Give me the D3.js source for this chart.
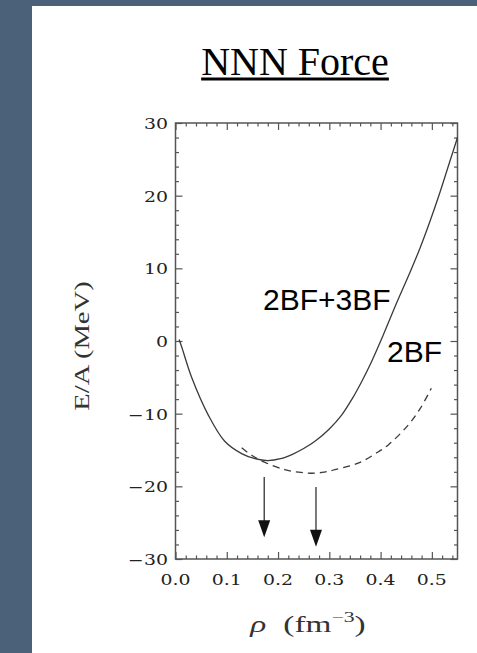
<!DOCTYPE html>
<html>
<head>
<meta charset="utf-8">
<script src="https://cdn.jsdelivr.net/npm/d3@7"></script>
<style>
body { margin: 0; background: #fff; }
svg { display: block; }
</style>
</head>
<body>
<div class="graph"></div>
<script>
// Data
var rho3BF = [0.007, 0.012, 0.032, 0.064, 0.096, 0.129, 0.155, 0.18, 0.205, 0.228, 0.25, 0.272, 0.3, 0.324, 0.345, 0.363, 0.38, 0.405, 0.431, 0.457, 0.477, 0.496, 0.516, 0.535, 0.55];
var e3BF   = [0.2, -0.8, -5.1, -10.2, -13.8, -15.5, -16.2, -16.45, -16.2, -15.6, -14.8, -13.8, -12.1, -10.2, -7.9, -5.6, -3.2, 0.8, 5.2, 9.4, 12.8, 16.4, 20.5, 24.7, 28.0];

var rho2BF = [0.129, 0.15, 0.171, 0.213, 0.24, 0.265, 0.29, 0.311, 0.34, 0.363, 0.39, 0.415, 0.454, 0.478, 0.499];
var e2BF   = [-14.7, -15.8, -16.6, -17.7, -18.05, -18.2, -18.05, -17.7, -17.2, -16.6, -15.5, -14.3, -11.55, -9.2, -6.5];

// saturation points marked with arrows
var arrowRho  = [0.173, 0.274];
var arrowFrom = [-18.7, -20.1];
var arrowTo   = [-27.0, -28.3];

var xTicks = [0.0, 0.1, 0.2, 0.3, 0.4, 0.5];
var xTickLabels = ["0.0", "0.1", "0.2", "0.3", "0.4", "0.5"];
var yTicks = [-30, -20, -10, 0, 10, 20, 30];
var yTickLabels = ["\u221230", "\u221220", "\u221210", "0", "10", "20", "30"];

// Configuration
var width = 477, height = 653;
var plotL = 175.5, plotR = 457.5, plotT = 123, plotB = 559;
var axisColour = "#555";
var curveColour = "#3a3a3a";
var slateColour = "#4b6079";

var x = d3.scaleLinear().domain([0, 0.55]).range([plotL, plotR]);
var y = d3.scaleLinear().domain([-30, 30]).range([plotB, plotT]);

var svg = d3.select(".graph").append("svg")
    .attr("width", width)
    .attr("height", height);

// slide background
svg.append("rect").attr("width", width).attr("height", height).attr("fill", slateColour);
svg.append("rect").attr("x", 32).attr("y", 6).attr("width", width - 32).attr("height", height - 6).attr("fill", "#fff");

// title
var title = svg.append("text")
    .attr("x", 295).attr("y", 75)
    .attr("text-anchor", "middle")
    .attr("font-family", "Liberation Serif, Times New Roman, serif")
    .attr("font-size", 40)
    .attr("fill", "#000")
    .text("NNN Force");
var tw = title.node().getComputedTextLength();
svg.append("rect")
    .attr("x", 295 - tw / 2).attr("y", 77.5)
    .attr("width", tw).attr("height", 3)
    .attr("fill", "#000");

// frame
svg.append("rect")
    .attr("x", plotL).attr("y", plotT)
    .attr("width", plotR - plotL).attr("height", plotB - plotT)
    .attr("fill", "none")
    .attr("stroke", axisColour)
    .attr("stroke-width", 1.5);

var xMinor = d3.range(0, 0.551, 0.02).filter(function(v) { return Math.abs(v * 10 - Math.round(v * 10)) > 1e-6; });
var yMinor = d3.range(-30, 30.1, 2).filter(function(v) { return v % 10 !== 0; });

function ticks(axis, scale, values, size, tr) {
    svg.append("g")
        .attr("transform", tr)
        .call(axis(scale).tickValues(values).tickSize(size).tickSizeOuter(0).tickFormat(""))
        .call(function(g) { g.select(".domain").remove(); })
        .selectAll("line")
        .attr("stroke", axisColour)
        .attr("stroke-width", 1.2);
}

ticks(d3.axisBottom, x, xTicks, -7, "translate(0," + plotB + ")");
ticks(d3.axisBottom, x, xMinor, -3.5, "translate(0," + plotB + ")");
ticks(d3.axisTop, x, xTicks, -7, "translate(0," + plotT + ")");
ticks(d3.axisTop, x, xMinor, -3.5, "translate(0," + plotT + ")");
ticks(d3.axisLeft, y, yTicks, -7, "translate(" + plotL + ",0)");
ticks(d3.axisLeft, y, yMinor, -3.5, "translate(" + plotL + ",0)");
ticks(d3.axisRight, y, yTicks, -7, "translate(" + plotR + ",0)");
ticks(d3.axisRight, y, yMinor, -3.5, "translate(" + plotR + ",0)");

// tick labels (the original figure is stretched sideways)
var tickFont = "DejaVu Serif, serif";
svg.selectAll(".xlab").data(xTicks).enter().append("text")
    .attr("transform", function(d) { return "translate(" + x(d) + ",585) scale(1.35,1)"; })
    .attr("text-anchor", "middle")
    .attr("font-family", tickFont)
    .attr("font-size", 14)
    .attr("fill", "#222")
    .text(function(d, i) { return xTickLabels[i]; });

svg.selectAll(".ylab").data(yTicks).enter().append("text")
    .attr("transform", function(d) { return "translate(168," + (y(d) + 6) + ") scale(1.35,1)"; })
    .attr("text-anchor", "end")
    .attr("font-family", tickFont)
    .attr("font-size", 14)
    .attr("fill", "#222")
    .text(function(d, i) { return yTickLabels[i]; });

// axis titles
svg.append("text")
    .attr("transform", "translate(89,346) rotate(-90) scale(1.3,1)")
    .attr("text-anchor", "middle")
    .attr("font-family", "Liberation Serif, serif")
    .attr("font-size", 22)
    .attr("fill", "#333")
    .text("E/A (MeV)");

var xt = svg.append("text")
    .attr("transform", "translate(308,632) scale(1.45,1)")
    .attr("text-anchor", "middle")
    .attr("font-family", "Liberation Serif, serif")
    .attr("font-size", 23)
    .attr("fill", "#333");
xt.append("tspan").attr("font-style", "italic").text("\u03C1");
xt.append("tspan").attr("dx", 6).text(" (fm");
xt.append("tspan").attr("dy", -10).attr("font-size", 15).text("\u22123");
xt.append("tspan").attr("dy", 10).text(")");

// curves
var line = d3.line()
    .x(function(d) { return x(d[0]); })
    .y(function(d) { return y(d[1]); })
    .curve(d3.curveCatmullRom.alpha(0.5));

svg.append("path")
    .attr("d", line(d3.zip(rho3BF, e3BF)))
    .attr("fill", "none")
    .attr("stroke", curveColour)
    .attr("stroke-width", 1.3);

svg.append("path")
    .attr("d", line(d3.zip(rho2BF, e2BF)))
    .attr("fill", "none")
    .attr("stroke", curveColour)
    .attr("stroke-width", 1.3)
    .style("stroke-dasharray", "7,5");

// arrows
var headLen = 17, headHalf = 6;
arrowRho.forEach(function(r, i) {
    var ax = x(r), y0 = y(arrowFrom[i]), y1 = y(arrowTo[i]);
    svg.append("line")
        .attr("x1", ax).attr("x2", ax)
        .attr("y1", y0).attr("y2", y1 - headLen + 2)
        .attr("stroke", "#222")
        .attr("stroke-width", 1.2);
    svg.append("path")
        .attr("d", "M" + (ax - headHalf) + "," + (y1 - headLen) + "L" + (ax + headHalf) + "," + (y1 - headLen) + "L" + ax + "," + y1 + "Z")
        .attr("fill", "#111");
});

// curve labels
svg.append("text")
    .attr("x", 263).attr("y", 310)
    .attr("font-family", "Liberation Sans, Arial, sans-serif")
    .attr("font-size", 30)
    .attr("fill", "#000")
    .text("2BF+3BF");

svg.append("text")
    .attr("x", 387).attr("y", 362)
    .attr("font-family", "Liberation Sans, Arial, sans-serif")
    .attr("font-size", 30)
    .attr("fill", "#000")
    .text("2BF");
</script>
</body>
</html>
